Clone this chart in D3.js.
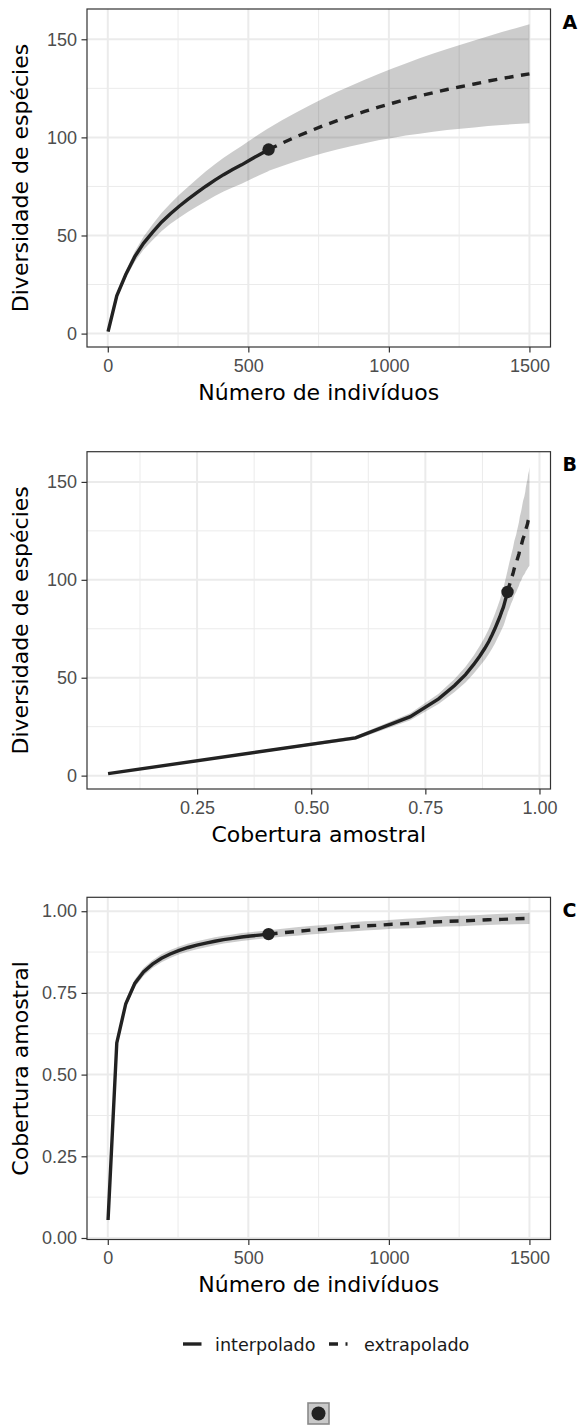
<!DOCTYPE html>
<html>
<head>
<meta charset="utf-8">
<script src="https://cdn.jsdelivr.net/npm/d3@7"></script>
<style>
  body { margin: 0; background: #fff; }
  svg { display: block; }
</style>
</head>
<body>
<div id="chart"></div>
<script>
// rarefaction / extrapolation table
var nObs = 572;
var sizes = [1, 32, 64, 96, 127, 159, 191, 222, 254, 286, 317, 349, 381, 412, 444, 476, 507, 539, 571, 572,
             573, 621, 670, 719, 768, 816, 865, 914, 963, 1012, 1060, 1109, 1158, 1207, 1255, 1304, 1353, 1402, 1451, 1500];
var qD = [1.0, 19.3, 30.1, 39.2, 46.0, 51.6, 56.8, 61.0, 64.9, 68.5, 71.8, 75.1, 78.2, 81.0, 83.6, 86.0, 88.6, 91.2, 93.7, 93.8,
          93.9, 97.1, 100.3, 103.2, 106.0, 108.5, 110.9, 113.2, 115.4, 117.4, 119.3, 121.1, 122.8, 124.4, 125.8, 127.2, 128.7, 130.0, 131.2, 132.4];
var qDLow = [1.0, 18.3, 28.3, 36.6, 42.7, 47.6, 52.2, 55.8, 59.1, 62.1, 64.8, 67.5, 70.1, 72.4, 74.5, 76.4, 78.5, 80.7, 82.8, 82.9,
             83.0, 85.4, 87.9, 90.0, 92.1, 93.8, 95.5, 97.0, 98.5, 99.7, 100.9, 101.9, 102.9, 103.7, 104.4, 105.0, 105.8, 106.3, 106.8, 107.2];
var qDHigh = [1.0, 20.3, 31.9, 41.8, 49.3, 55.6, 61.4, 66.2, 70.7, 74.9, 78.8, 82.7, 86.3, 89.6, 92.7, 95.6, 98.7, 101.7, 104.6, 104.7,
              104.8, 108.8, 112.7, 116.4, 119.9, 123.2, 126.3, 129.4, 132.3, 135.1, 137.7, 140.3, 142.7, 145.1, 147.2, 149.4, 151.6, 153.7, 155.6, 157.6];
var coverage = [0.055, 0.597, 0.717, 0.779, 0.814, 0.838, 0.856, 0.869, 0.880, 0.889, 0.896, 0.9025, 0.908, 0.913, 0.917, 0.921, 0.924, 0.927, 0.930, 0.930,
                0.930, 0.934, 0.938, 0.942, 0.945, 0.949, 0.952, 0.955, 0.957, 0.960, 0.962, 0.964, 0.967, 0.969, 0.970, 0.972, 0.974, 0.975, 0.977, 0.978];
var coverageLow = [0.043, 0.585, 0.705, 0.767, 0.802, 0.826, 0.844, 0.857, 0.868, 0.877, 0.884, 0.890, 0.896, 0.901, 0.905, 0.909, 0.912, 0.915, 0.918, 0.918,
                   0.918, 0.922, 0.925, 0.929, 0.932, 0.936, 0.938, 0.941, 0.943, 0.946, 0.947, 0.949, 0.952, 0.953, 0.954, 0.956, 0.958, 0.959, 0.960, 0.961];
var coverageHigh = [0.067, 0.609, 0.729, 0.791, 0.826, 0.850, 0.868, 0.881, 0.892, 0.901, 0.908, 0.914, 0.920, 0.925, 0.929, 0.933, 0.936, 0.939, 0.942, 0.942,
                    0.942, 0.946, 0.951, 0.955, 0.958, 0.962, 0.966, 0.969, 0.971, 0.974, 0.977, 0.979, 0.982, 0.985, 0.986, 0.988, 0.990, 0.992, 0.994, 0.995];

// tick labels
var sizeTicks = [0, 500, 1000, 1500];
var richnessTicks = [0, 50, 100, 150];
var coverageTicksX = [0.25, 0.50, 0.75, 1.00];
var coverageTicksY = [0.00, 0.25, 0.50, 0.75, 1.00];

var methodLabels = ["interpolado", "extrapolado"];
var panelLetters = ["A", "B", "C"];
var xTitles = ["Número de indivíduos", "Cobertura amostral", "Número de indivíduos"];
var yTitles = ["Diversidade de espécies", "Diversidade de espécies", "Cobertura amostral"];

var rows = sizes.map(function(m, i) {
    return {size: m, qd: qD[i], qdLo: qDLow[i], qdHi: qDHigh[i],
            sc: coverage[i], scLo: coverageLow[i], scHi: coverageHigh[i]};
});
var interp = rows.filter(d => d.size <= nObs);
var extrap = rows.filter(d => d.size >= nObs);
var obs = rows.filter(d => d.size === nObs)[0];

var W = 580, H = 1425;
var svg = d3.select("#chart").append("svg")
    .attr("width", W)
    .attr("height", H);

var lineColor = "#222222";
var tickFont = "'Liberation Sans', Arial, sans-serif";
var titleFont = "'DejaVu Sans', Verdana, sans-serif";

// ggplot style 5% expansion
function expanded(vals) {
    var lo = d3.min(vals), hi = d3.max(vals), r = hi - lo;
    return [lo - 0.05 * r, hi + 0.05 * r];
}

function minorOf(major, dom) {
    var step = major[1] - major[0];
    var out = [];
    var cand = [major[0] - step / 2];
    major.forEach(function(v) { cand.push(v + step / 2); });
    cand.forEach(function(v) { if (v > dom[0] && v < dom[1]) out.push(v); });
    return out;
}

function drawPanel(p) {
    var x = d3.scaleLinear()
        .domain(expanded(rows.map(d => d[p.xKey])))
        .range([p.left, p.right]);
    var y = d3.scaleLinear()
        .domain(expanded(rows.map(d => d[p.loKey]).concat(rows.map(d => d[p.hiKey]))))
        .range([p.bottom, p.top]);

    var g = svg.append("g");
    var xMajor = p.xTicks, yMajor = p.yTicks;
    var xMinor = minorOf(xMajor, x.domain()), yMinor = minorOf(yMajor, y.domain());

    g.append("rect")
        .attr("x", p.left).attr("y", p.top)
        .attr("width", p.right - p.left).attr("height", p.bottom - p.top)
        .attr("fill", "#fff");

    // grid
    g.selectAll(".vminor").data(xMinor).join("line")
        .attr("x1", d => x(d)).attr("x2", d => x(d))
        .attr("y1", p.top).attr("y2", p.bottom)
        .attr("stroke", "#ebebeb").attr("stroke-width", 1);
    g.selectAll(".hminor").data(yMinor).join("line")
        .attr("y1", d => y(d)).attr("y2", d => y(d))
        .attr("x1", p.left).attr("x2", p.right)
        .attr("stroke", "#ebebeb").attr("stroke-width", 1);
    g.selectAll(".vmajor").data(xMajor).join("line")
        .attr("x1", d => x(d)).attr("x2", d => x(d))
        .attr("y1", p.top).attr("y2", p.bottom)
        .attr("stroke", "#ebebeb").attr("stroke-width", 2);
    g.selectAll(".hmajor").data(yMajor).join("line")
        .attr("y1", d => y(d)).attr("y2", d => y(d))
        .attr("x1", p.left).attr("x2", p.right)
        .attr("stroke", "#ebebeb").attr("stroke-width", 2);

    // confidence band
    var area = d3.area()
        .x(d => x(d[p.xKey]))
        .y0(d => y(d[p.loKey]))
        .y1(d => y(d[p.hiKey]));
    g.append("path")
        .datum(rows)
        .attr("d", area)
        .attr("fill", "#000")
        .attr("fill-opacity", 0.2);

    var line = d3.line()
        .x(d => x(d[p.xKey]))
        .y(d => y(d[p.yKey]));
    g.append("path")
        .datum(interp)
        .attr("d", line)
        .attr("fill", "none")
        .attr("stroke", lineColor)
        .attr("stroke-width", 3.4);
    g.append("path")
        .datum(extrap)
        .attr("d", line)
        .attr("fill", "none")
        .attr("stroke", lineColor)
        .attr("stroke-width", 3.4)
        .attr("stroke-dasharray", "9,7.5");

    g.append("circle")
        .attr("cx", x(obs[p.xKey]))
        .attr("cy", y(obs[p.yKey]))
        .attr("r", 6.2)
        .attr("fill", lineColor);

    g.append("rect")
        .attr("x", p.left).attr("y", p.top)
        .attr("width", p.right - p.left).attr("height", p.bottom - p.top)
        .attr("fill", "none")
        .attr("stroke", "#333333")
        .attr("stroke-width", 1.2);

    // axes
    var xAxis = g.append("g")
        .attr("transform", "translate(0," + p.bottom + ")")
        .call(d3.axisBottom(x).tickValues(xMajor).tickFormat(d3.format(p.xFmt))
              .tickSize(5.5).tickPadding(6.5));
    var yAxis = g.append("g")
        .attr("transform", "translate(" + p.left + ",0)")
        .call(d3.axisLeft(y).tickValues(yMajor).tickFormat(d3.format(p.yFmt))
              .tickSize(5.5).tickPadding(4.5));
    [xAxis, yAxis].forEach(function(a) {
        a.select(".domain").remove();
        a.selectAll(".tick line").attr("stroke", "#333333").attr("stroke-width", 1.2);
        a.selectAll(".tick text")
            .attr("fill", "#4d4d4d")
            .style("font-family", tickFont)
            .style("font-size", "18px");
    });

    g.append("text")
        .attr("x", (p.left + p.right) / 2)
        .attr("y", p.bottom + 52.5)
        .attr("text-anchor", "middle")
        .style("font-family", titleFont)
        .style("font-size", "22px")
        .attr("fill", "#000")
        .text(p.xTitle);
    g.append("text")
        .attr("transform", "translate(28," + ((p.top + p.bottom) / 2) + ")rotate(-90)")
        .attr("text-anchor", "middle")
        .style("font-family", titleFont)
        .style("font-size", "22px")
        .attr("fill", "#000")
        .text(p.yTitle);
    g.append("text")
        .attr("x", 562.5)
        .attr("y", p.top + 19.5)
        .style("font-family", titleFont)
        .style("font-size", "19px")
        .style("font-weight", "bold")
        .attr("fill", "#000")
        .text(p.letter);
}

var panels = [
    {xKey: "size", yKey: "qd", loKey: "qdLo", hiKey: "qdHi", xFmt: "d", yFmt: "d",
     xTicks: sizeTicks, yTicks: richnessTicks,
     left: 87, right: 550.5, top: 9, bottom: 347},
    {xKey: "sc", yKey: "qd", loKey: "qdLo", hiKey: "qdHi", xFmt: ".2f", yFmt: "d",
     xTicks: coverageTicksX, yTicks: richnessTicks,
     left: 87, right: 550.5, top: 451.7, bottom: 789},
    {xKey: "size", yKey: "sc", loKey: "scLo", hiKey: "scHi", xFmt: "d", yFmt: ".2f",
     xTicks: sizeTicks, yTicks: coverageTicksY,
     left: 87, right: 550.5, top: 897.3, bottom: 1239.5}
];
panels.forEach(function(p, i) {
    p.letter = panelLetters[i];
    p.xTitle = xTitles[i];
    p.yTitle = yTitles[i];
    drawPanel(p);
});

// legend
var leg = svg.append("g");
var legY = 1344;
var keys = [{x: 183, dash: null, tx: 215}, {x: 329, dash: "9,7.5", tx: 364}];
keys.forEach(function(k, i) {
    var l = leg.append("line")
        .attr("x1", k.x).attr("x2", k.x + 18.5)
        .attr("y1", legY).attr("y2", legY)
        .attr("stroke", lineColor)
        .attr("stroke-width", 3.4);
    if (k.dash) l.attr("stroke-dasharray", k.dash);
    leg.append("text")
        .attr("x", k.tx)
        .attr("y", legY + 3.5)
        .attr("dy", "0.2em")
        .style("font-family", titleFont)
        .style("font-size", "17.6px")
        .attr("fill", "#1a1a1a")
        .text(methodLabels[i]);
});

// point/band key
leg.append("rect")
    .attr("x", 308).attr("y", 1403)
    .attr("width", 21).attr("height", 21)
    .attr("fill", "#c9c9c9")
    .attr("stroke", "#8a8a8a")
    .attr("stroke-width", 1.6);
leg.append("circle")
    .attr("cx", 318.5).attr("cy", 1413.5)
    .attr("r", 7)
    .attr("fill", lineColor);
</script>
</body>
</html>
